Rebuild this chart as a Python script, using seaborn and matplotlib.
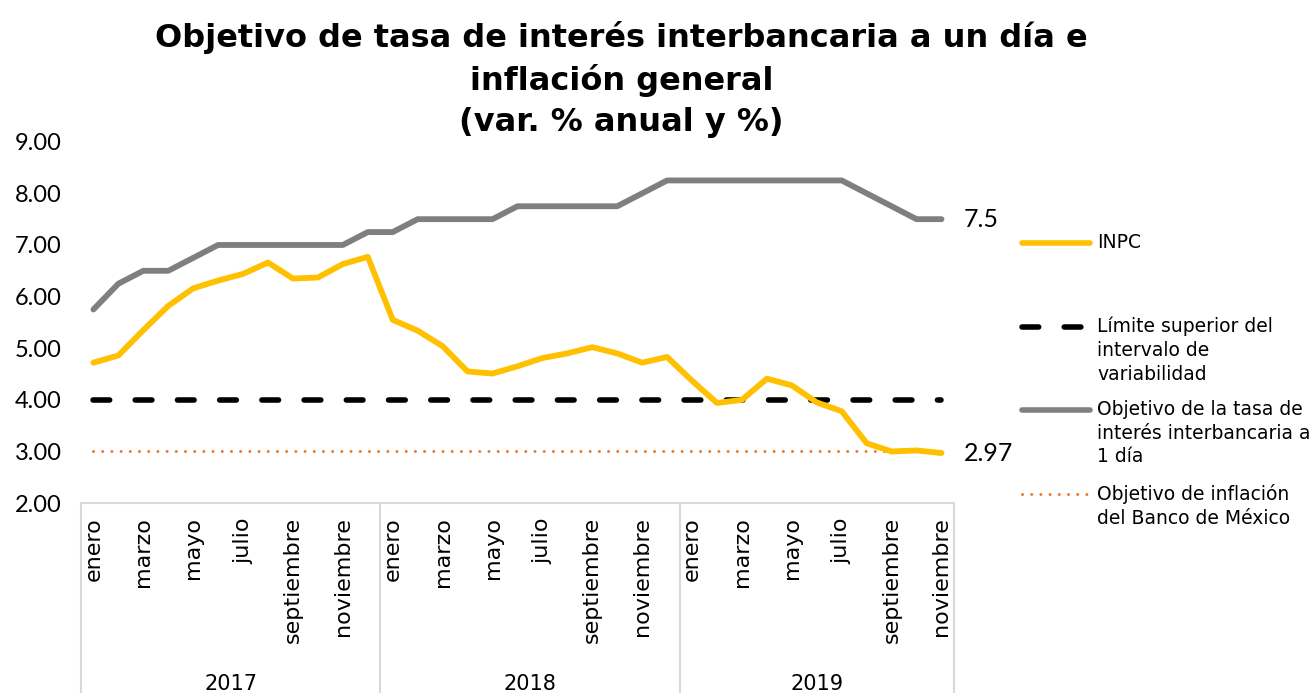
import numpy as np
import pandas as pd
import matplotlib
matplotlib.use('Agg')
import matplotlib.pyplot as plt
from matplotlib.lines import Line2D
import seaborn as sns

# datos
anios = ['2017', '2018', '2019']
meses_nombres = ['enero', 'febrero', 'marzo', 'abril', 'mayo', 'junio', 'julio',
                 'agosto', 'septiembre', 'octubre', 'noviembre', 'diciembre']
meses = [m for a in anios for m in meses_nombres][:35]
anio_de_mes = [a for a in anios for m in meses_nombres][:35]

inpc = [4.72, 4.86, 5.35, 5.82, 6.16, 6.31, 6.44, 6.66, 6.35, 6.37, 6.63, 6.77,
        5.55, 5.34, 5.04, 4.55, 4.51, 4.65, 4.81, 4.90, 5.02, 4.90, 4.72, 4.83,
        4.37, 3.94, 4.00, 4.41, 4.28, 3.95, 3.78, 3.16, 3.00, 3.02, 2.97]
tasa_objetivo = [5.75, 6.25, 6.50, 6.50, 6.75, 7.00, 7.00, 7.00, 7.00, 7.00, 7.00, 7.25,
                 7.25, 7.50, 7.50, 7.50, 7.50, 7.75, 7.75, 7.75, 7.75, 7.75, 8.00, 8.25,
                 8.25, 8.25, 8.25, 8.25, 8.25, 8.25, 8.25, 8.00, 7.75, 7.50, 7.50]
limite_superior = [4.0] * len(meses)
objetivo_inflacion = [3.0] * len(meses)

df = pd.DataFrame({'pos': np.arange(len(meses)), 'mes': meses, 'anio': anio_de_mes,
                   'INPC': inpc, 'tasa': tasa_objetivo,
                   'limite': limite_superior, 'objetivo': objetivo_inflacion})

sns.set_theme(style='white')
plt.rcParams['font.family'] = ['DejaVu Sans']
plt.rcParams['text.color'] = 'black'
plt.rcParams['xtick.color'] = 'black'
plt.rcParams['ytick.color'] = 'black'

c_inpc = '#FFC000'
c_tasa = '#7F7F7F'
c_lim = '#000000'
c_obj = '#ED7D31'
c_borde = '#D9D9D9'

fig = plt.figure(figsize=(13.14, 6.93), dpi=100)
ax = fig.add_axes([0.0616, 0.274, 0.6644, 0.5215])

sns.lineplot(data=df, x='pos', y='objetivo', ax=ax, color=c_obj, lw=2.2)
ax.lines[-1].set_dashes((0.01, 3.0))
ax.lines[-1].set_dash_capstyle('round')
sns.lineplot(data=df, x='pos', y='limite', ax=ax, color=c_lim, lw=4)
ax.lines[-1].set_dashes((3.0, 4.6))
ax.lines[-1].set_dash_capstyle('round')
sns.lineplot(data=df, x='pos', y='tasa', ax=ax, color=c_tasa, lw=4.2,
             solid_capstyle='round')
sns.lineplot(data=df, x='pos', y='INPC', ax=ax, color=c_inpc, lw=4.2,
             solid_capstyle='round')

ax.set_xlim(-0.5, len(meses) - 0.5)
ax.set_ylim(2, 9)
ax.set_yticks(np.arange(2, 10, 1))
ax.set_yticklabels([f'{v:.2f}' for v in np.arange(2, 10, 1)], fontsize=17,
                   family=['Lato'])
ax.tick_params(axis='y', length=0, pad=14)
ax.set_xlabel('')
ax.set_ylabel('')
for s in ['top', 'right', 'left']:
    ax.spines[s].set_visible(False)
ax.spines['bottom'].set_color(c_borde)
ax.spines['bottom'].set_linewidth(1.5)

# etiquetas de meses (uno si, uno no)
ticks = df['pos'][::2]
ax.set_xticks(ticks)
ax.set_xticklabels(df['mes'][::2], rotation=90, fontsize=16, va='top')
ax.tick_params(axis='x', length=0, pad=10)

# separadores y etiquetas de anio
trans = ax.get_xaxis_transform()
bordes = [-0.5]
for a in anios:
    sub = df[df['anio'] == a]
    bordes.append(sub['pos'].max() + 0.5)
    ax.text(sub['pos'].mean(), -0.5, a, transform=trans, ha='center',
            va='center', fontsize=15)
for b in bordes:
    ax.add_line(Line2D([b, b], [0, -0.54], transform=trans, color=c_borde,
                       lw=1.5, clip_on=False))

# valores finales
ax.annotate(f'{tasa_objetivo[-1]:g}', (df['pos'].iloc[-1], tasa_objetivo[-1]),
            xytext=(16, 0), textcoords='offset points', fontsize=18,
            va='center', family=['Lato'])
ax.annotate(f'{inpc[-1]:g}', (df['pos'].iloc[-1], inpc[-1]),
            xytext=(16, 0), textcoords='offset points', fontsize=18,
            va='center', family=['Lato'])

fig.suptitle('Objetivo de tasa de interés interbancaria a un día e\n'
             'inflación general\n(var. % anual y %)',
             x=0.473, y=0.969, fontsize=23, fontweight='bold',
             linespacing=1.385, va='top')

# leyenda al estilo del original
W, H = 1314, 693
entradas = [
    ('INPC', c_inpc, None, 243),
    ('Límite superior del\nintervalo de\nvariabilidad', c_lim, (3.0, 4.6), 327),
    ('Objetivo de la tasa de\ninterés interbancaria a\n1 día', c_tasa, None, 410),
    ('Objetivo de inflación\ndel Banco de México', c_obj, (0.01, 3.0), 494),
]
for txt, col, dash, ypix in entradas:
    yf = 1 - ypix / H
    lw = 2.2 if col == c_obj else 4
    ln = Line2D([1022 / W, 1090 / W], [yf, yf], transform=fig.transFigure,
                color=col, lw=lw, solid_capstyle='round', dash_capstyle='round')
    if dash is not None:
        ln.set_dashes(dash)
    fig.add_artist(ln)
    fig.text(1097 / W, yf + 10 / H, txt, fontsize=13.5, va='top', ha='left',
             linespacing=1.31)

fig.savefig('out.png', dpi=100)
